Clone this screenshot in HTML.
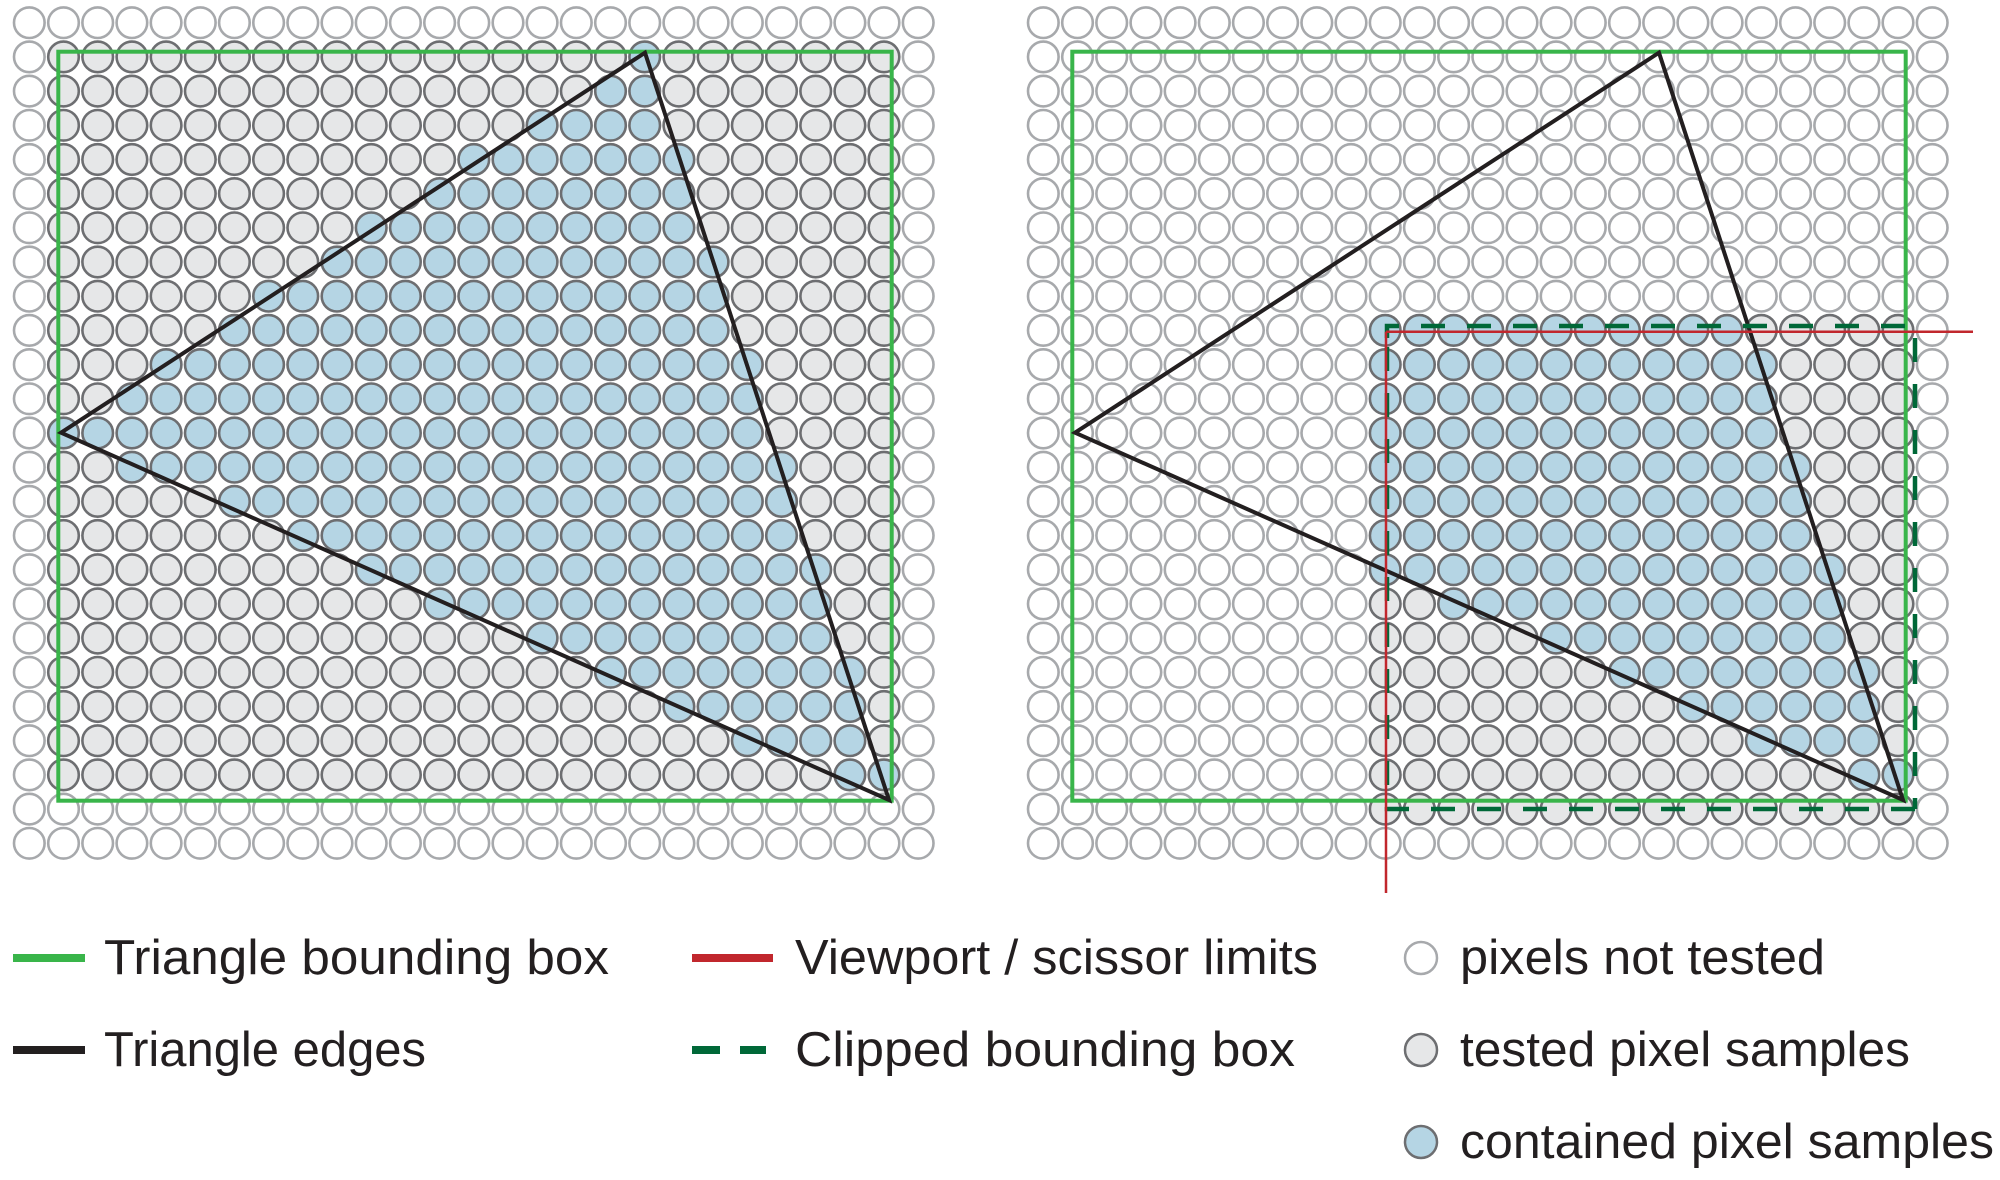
<!DOCTYPE html>
<html><head><meta charset="utf-8"><style>html,body{margin:0;padding:0;background:#fff;}svg{display:block}</style></head>
<body>
<svg id="s" xmlns="http://www.w3.org/2000/svg" width="2000" height="1180" viewBox="0 0 2000 1180">
<g id="circles"></g>
<g id="over"></g>
<g font-family="Liberation Sans, sans-serif" font-size="49" fill="#231f20">
<line x1="13" y1="958" x2="85" y2="958" stroke="#39b54a" stroke-width="8"/>
<text x="104" y="974" textLength="505" lengthAdjust="spacingAndGlyphs">Triangle bounding box</text>
<line x1="13" y1="1050" x2="85" y2="1050" stroke="#231f20" stroke-width="8"/>
<text x="104" y="1066" textLength="322" lengthAdjust="spacingAndGlyphs">Triangle edges</text>
<line x1="692" y1="958" x2="773" y2="958" stroke="#c1272d" stroke-width="8"/>
<text x="795" y="974" textLength="523" lengthAdjust="spacingAndGlyphs">Viewport / scissor limits</text>
<line x1="692" y1="1050" x2="720" y2="1050" stroke="#006838" stroke-width="8"/>
<line x1="740" y1="1050" x2="766" y2="1050" stroke="#006838" stroke-width="8"/>
<text x="795" y="1066" textLength="500" lengthAdjust="spacingAndGlyphs">Clipped bounding box</text>
<circle cx="1421" cy="958" r="16" fill="#fff" stroke="#a7a9ac" stroke-width="2.5"/>
<text x="1460" y="974" textLength="365" lengthAdjust="spacingAndGlyphs">pixels not tested</text>
<circle cx="1421" cy="1050" r="16" fill="#e6e7e8" stroke="#6d6e71" stroke-width="2.5"/>
<text x="1460" y="1066" textLength="450" lengthAdjust="spacingAndGlyphs">tested pixel samples</text>
<circle cx="1421" cy="1142" r="16" fill="#b5d5e4" stroke="#6d6e71" stroke-width="2.5"/>
<text x="1460" y="1158" textLength="534" lengthAdjust="spacingAndGlyphs">contained pixel samples</text>
</g>
</svg>
<script>
(function(){
var NS="http://www.w3.org/2000/svg";
var cg=document.getElementById("circles"),og=document.getElementById("over");
var P=34.19,X0=29.3,Y0=22.7,R=15.3;
function el(t,a,p){var e=document.createElementNS(NS,t);for(var k in a)e.setAttribute(k,a[k]);p.appendChild(e);return e;}
function inside(px,py,T){
  var mins=1e9;
  var area=(T[1][0]-T[0][0])*(T[2][1]-T[0][1])-(T[1][1]-T[0][1])*(T[2][0]-T[0][0]);
  var sg=area>0?1:-1;
  for(var k=0;k<3;k++){
    var a=T[k],b=T[(k+1)%3];
    var dx=b[0]-a[0],dy=b[1]-a[1],L=Math.sqrt(dx*dx+dy*dy);
    var d=sg*(dx*(py-a[1])-dy*(px-a[0]))/L;
    if(d<mins)mins=d;
  }
  return mins>=-4;
}
function panel(off,box,T){
  for(var j=0;j<25;j++)for(var i=0;i<27;i++){
    var cx=X0+off+P*i,cy=Y0+P*j;
    var tested=cx>box[0]&&cx<box[2]&&cy>box[1]&&cy<box[3];
    var fill="#fff",st="#a7a9ac";
    if(tested){st="#6d6e71";fill=inside(cx,cy,T)?"#b5d5e4":"#e6e7e8";}
    el("circle",{cx:cx.toFixed(1),cy:cy.toFixed(1),r:R,fill:fill,stroke:st,"stroke-width":2.6},cg);
  }
}
var TL=[[645,52.7],[61,432.7],[889,800]];
var TR=[[1659,52.7],[1075,432.7],[1903,800]];
panel(0,[58,50,892,801],TL);
panel(1014,[1384,326,1916,812],TR);
el("rect",{x:58.3,y:51.7,width:833.4,height:749,fill:"none",stroke:"#39b54a","stroke-width":4},og);
el("polygon",{points:TL.map(function(p){return p.join(",")}).join(" "),fill:"none",stroke:"#231f20","stroke-width":4},og);
el("rect",{x:1072.3,y:51.7,width:833.4,height:749,fill:"none",stroke:"#39b54a","stroke-width":4},og);
el("polygon",{points:TR.map(function(p){return p.join(",")}).join(" "),fill:"none",stroke:"#231f20","stroke-width":4},og);
var dg={fill:"none",stroke:"#006838","stroke-width":4.5,"stroke-dasharray":"24 22"};
function dl(d){var a={};for(var k in dg)a[k]=dg[k];a.d=d;el("path",a,og);}
dl("M1387,338 V326 H1915 V809");
dl("M1915,809 H1387 V326");
el("line",{x1:1386,y1:331.7,x2:1973,y2:331.7,stroke:"#c1272d","stroke-width":2.5},og);
el("line",{x1:1386,y1:331.7,x2:1386,y2:893,stroke:"#c1272d","stroke-width":2.5},og);
})();
</script>
</body></html>
